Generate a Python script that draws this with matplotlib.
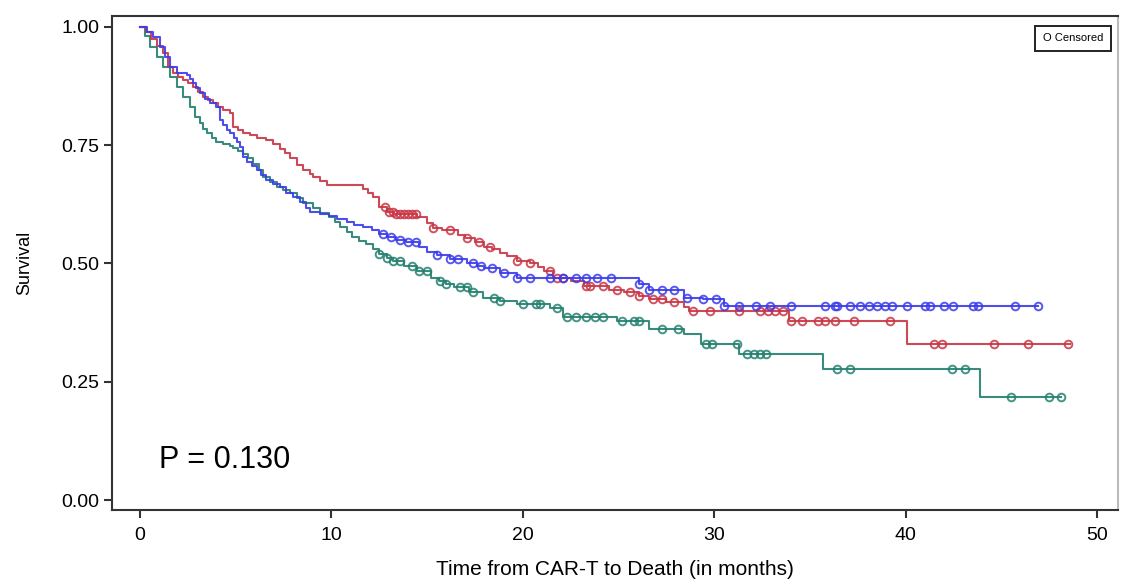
import numpy as np
import matplotlib
matplotlib.use('Agg')
import matplotlib.pyplot as plt

plt.rcParams['font.family'] = ['Liberation Sans Narrow', 'Liberation Sans', 'DejaVu Sans']

# step curves: (time in months, survival from that time on)
red_t = [0, 0.3, 0.6, 0.9, 1.2, 1.47, 1.74, 2.0, 2.27, 2.5, 2.78, 3.05, 3.31, 3.57, 3.83, 4.1,
         4.35, 4.7, 4.87, 5.1, 5.4, 5.75, 6.1, 6.6, 6.95, 7.3, 7.6, 7.84, 8.2, 8.53, 8.88, 9.05,
         9.4, 9.75, 11.66, 11.9, 12.2, 12.5, 12.9, 13.3, 14.5, 15.0, 15.3, 15.8, 16.6, 17.0,
         17.5, 18.0, 18.4, 18.8, 19.2, 19.7, 20.4, 20.8, 21.1, 21.6, 22.5, 23.2, 24.5, 25.3,
         26.1, 26.6, 27.5, 28.4, 28.7, 33.9, 40.05, 48.6]
red_s = [1.0, 0.99, 0.975, 0.96, 0.945, 0.916, 0.902, 0.895, 0.888, 0.881, 0.874, 0.862, 0.852,
         0.845, 0.839, 0.831, 0.824, 0.817, 0.789, 0.782, 0.776, 0.771, 0.766, 0.761, 0.753,
         0.742, 0.733, 0.722, 0.708, 0.697, 0.69, 0.683, 0.675, 0.665, 0.658, 0.649, 0.64, 0.619,
         0.609, 0.605, 0.598, 0.585, 0.575, 0.57, 0.56, 0.553, 0.545, 0.535, 0.53, 0.522, 0.515,
         0.506, 0.50, 0.492, 0.485, 0.47, 0.462, 0.453, 0.445, 0.44, 0.432, 0.425, 0.418, 0.407,
         0.40, 0.379, 0.33, 0.33]
red_cens = [12.8, 13.0, 13.2, 13.4, 13.6, 13.8, 14.0, 14.2, 14.4, 15.3, 16.2, 17.1, 17.7, 18.3,
            19.7, 20.4, 21.4, 21.8, 22.1, 23.3, 23.5, 24.2, 24.9, 25.6, 26.1, 26.8, 27.3, 27.9,
            28.9, 29.8, 31.3, 32.4, 32.8, 33.2, 33.6, 34.0, 34.6, 35.4, 35.8, 36.3, 37.3, 39.2,
            41.5, 41.9, 44.6, 46.4, 48.5]

blue_t = [0, 0.35, 0.7, 1.04, 1.3, 1.57, 1.92, 2.44, 2.6, 2.78, 2.95, 3.13, 3.4, 3.66, 4.0, 4.18,
          4.35, 4.53, 4.7, 4.9, 5.05, 5.22, 5.4, 5.6, 5.85, 6.1, 6.35, 6.6, 6.95, 7.3, 7.65, 8.0,
          8.36, 8.7, 8.88, 9.4, 9.9, 10.3, 10.8, 11.2, 11.66, 12.1, 12.5, 12.9, 13.4, 13.9, 14.6,
          15.0, 15.5, 16.2, 17.1, 17.6, 18.0, 18.8, 19.7, 26.1, 26.6, 28.4, 29.4, 30.5, 46.9]
blue_s = [1.0, 0.99, 0.979, 0.958, 0.937, 0.916, 0.902, 0.898, 0.89, 0.881, 0.87, 0.86, 0.848,
          0.839, 0.831, 0.803, 0.792, 0.782, 0.775, 0.765, 0.757, 0.746, 0.725, 0.715, 0.705,
          0.697, 0.686, 0.676, 0.669, 0.662, 0.65, 0.64, 0.63, 0.618, 0.609, 0.605, 0.60, 0.594,
          0.588, 0.582, 0.577, 0.57, 0.563, 0.556, 0.55, 0.545, 0.534, 0.525, 0.517, 0.51, 0.502,
          0.495, 0.49, 0.479, 0.47, 0.457, 0.443, 0.428, 0.425, 0.411, 0.411]
blue_cens = [12.7, 13.1, 13.6, 14.0, 14.4, 15.5, 16.2, 16.6, 17.4, 17.8, 18.4, 19.0, 19.7, 20.4,
             21.4, 22.1, 22.8, 23.3, 23.9, 24.6, 26.1, 26.6, 27.3, 27.9, 28.6, 29.4, 30.1, 30.5,
             31.3, 32.2, 32.9, 34.0, 35.8, 36.3, 36.4, 37.1, 37.6, 38.1, 38.5, 38.9, 39.3, 40.1,
             41.0, 41.3, 42.0, 42.5, 43.5, 43.8, 45.7, 46.9]

green_t = [0, 0.25, 0.52, 0.87, 1.2, 1.57, 1.92, 2.27, 2.61, 2.87, 3.13, 3.3, 3.48, 3.75, 4.0,
           4.35, 4.7, 4.87, 5.15, 5.4, 5.65, 5.92, 6.2, 6.44, 6.8, 7.14, 7.5, 7.84, 8.2, 8.53,
           9.05, 9.4, 9.9, 10.2, 10.45, 10.8, 11.1, 11.45, 11.8, 12.2, 12.5, 12.9, 13.2, 13.8,
           14.5, 15.2, 15.6, 16.0, 16.4, 17.2, 17.9, 18.8, 19.7, 21.4, 22.1, 24.9, 26.6, 28.4,
           29.3, 31.3, 35.7, 43.9, 48.1]
green_s = [1.0, 0.98, 0.958, 0.937, 0.916, 0.895, 0.874, 0.852, 0.831, 0.81, 0.796, 0.785,
           0.775, 0.765, 0.757, 0.752, 0.748, 0.744, 0.738, 0.731, 0.722, 0.711, 0.697, 0.683,
           0.672, 0.662, 0.655, 0.648, 0.638, 0.627, 0.617, 0.606, 0.598, 0.587, 0.577, 0.566,
           0.556, 0.548, 0.542, 0.53, 0.521, 0.512, 0.505, 0.495, 0.485, 0.47, 0.462, 0.457,
           0.45, 0.44, 0.428, 0.42, 0.415, 0.405, 0.386, 0.379, 0.362, 0.352, 0.33, 0.309, 0.277,
           0.218, 0.218]
green_cens = [12.5, 12.9, 13.2, 13.6, 14.2, 14.6, 15.0, 15.7, 16.0, 16.7, 17.1, 17.4, 18.5, 18.8,
              20.0, 20.7, 20.9, 21.8, 22.3, 22.8, 23.3, 23.8, 24.2, 25.2, 25.8, 26.1, 27.3, 28.1,
              29.6, 29.9, 31.2, 31.7, 32.1, 32.4, 32.7, 36.4, 37.1, 42.4, 43.1, 45.5, 47.5, 48.1]

groups = [
    (green_t, green_s, green_cens, '#23806f'),
    (red_t, red_s, red_cens, '#c93545'),
    (blue_t, blue_s, blue_cens, '#3b3bea'),
]

fig = plt.figure(figsize=(11.24, 5.87), dpi=100)
ax = fig.add_axes([0.0996, 0.1312, 0.8951, 0.8415])

for t, s, cens, color in groups:
    t = np.array(t)
    s = np.array(s)
    ax.step(t, s, where='post', color=color, linewidth=1.5, alpha=0.9)
    idx = np.searchsorted(t, cens, side='right') - 1
    ax.plot(cens, s[idx], linestyle='none', marker='o', markersize=5.5,
            markerfacecolor='none', markeredgecolor=color, markeredgewidth=1.4, alpha=0.85)

ax.set_xlim(-1.46, 51.1)
ax.set_ylim(-0.021, 1.023)
ax.set_xticks([0, 10, 20, 30, 40, 50])
ax.set_yticks([0, 0.25, 0.5, 0.75, 1.0])
ax.set_yticklabels(['0.00', '0.25', '0.50', '0.75', '1.00'])
ax.tick_params(direction='out', length=6, width=1.5, labelsize=14, color='#333333')
ax.tick_params(axis='x', pad=6)
ax.tick_params(axis='y', pad=3)
for sp in ax.spines.values():
    sp.set_linewidth(1.5)
    sp.set_color('#333333')
ax.spines['right'].set_color('#bbbbbb')

ax.set_xlabel('Time from CAR-T to Death (in months)', fontsize=15, labelpad=12)
ax.set_ylabel('Survival', fontsize=13, labelpad=20)

ax.text(1.0, 0.085, 'P = 0.130', fontsize=22, ha='left', va='center')
ax.text(0.985, 0.965, 'O Censored', transform=ax.transAxes, fontsize=8, ha='right', va='top',
        bbox=dict(boxstyle='square,pad=0.7', facecolor='white', edgecolor='#222222', linewidth=1.4))

fig.savefig('out.png', dpi=100)
